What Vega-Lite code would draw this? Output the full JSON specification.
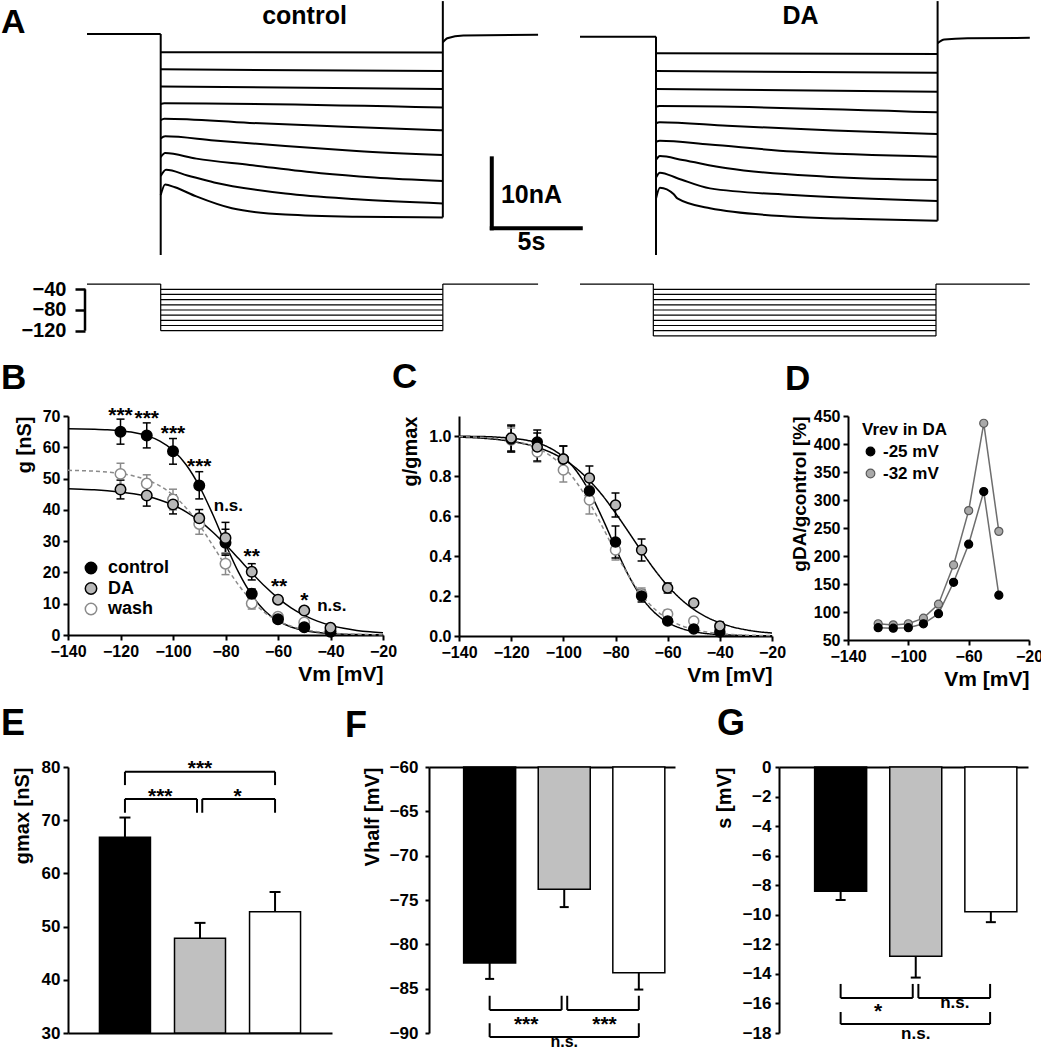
{
"$schema":"https://vega.github.io/schema/vega-lite/v6.json",
"background":"white",
"padding":{"left":1,"top":0,"right":0,"bottom":0},
"config":{
 "view":{"stroke":null},
 "font":"Liberation Sans",
 "axis":{"domainColor":"black","domainWidth":2,"tickColor":"black","tickWidth":2,"tickSize":5,"labelFont":"Liberation Sans","labelFontSize":16,"labelFontWeight":"bold","labelColor":"black","labelPadding":3,"titleFont":"Liberation Sans","titleFontSize":20,"titleFontWeight":"bold","titleColor":"black","grid":false,"labelOverlap":false,"labelFlush":false,"labelBound":false,"titlePadding":6},
 "title":{"font":"Liberation Sans","fontSize":36,"fontWeight":"bold","color":"black","anchor":"start","frame":"group","baseline":"alphabetic","offset":0},
 "legend":{"labelFont":"Liberation Sans","labelFontWeight":"bold","labelColor":"black","titleFont":"Liberation Sans","titleFontWeight":"bold","titleColor":"black","padding":0},
 "text":{"font":"Liberation Sans","fontWeight":"bold","color":"black"}
},
"datasets":{
 "pts":[
  {"V":-120,"s":"wash","g":51.5,"lo":48.1,"hi":54.9,"gn":0.98,"nlo":0.92,"nhi":1.04},
  {"V":-110,"s":"wash","g":48.4,"lo":45.6,"hi":51.2,"gn":0.92,"nlo":0.87,"nhi":0.97},
  {"V":-100,"s":"wash","g":43.3,"lo":40.0,"hi":46.6,"gn":0.83,"nlo":0.77,"nhi":0.89},
  {"V":-90,"s":"wash","g":35.5,"lo":32.2,"hi":38.8,"gn":0.68,"nlo":0.61,"nhi":0.75},
  {"V":-80,"s":"wash","g":22.8,"lo":19.3,"hi":26.3,"gn":0.43,"nlo":0.38,"nhi":0.48},
  {"V":-70,"s":"wash","g":10.1,"lo":8.3,"hi":11.9,"gn":0.21,"nlo":0.18,"nhi":0.24},
  {"V":-60,"s":"wash","g":5.8,"lo":5.0,"hi":6.6,"gn":0.11,"nlo":0.09,"nhi":0.13},
  {"V":-50,"s":"wash","g":4.0,"lo":3.3,"hi":4.7,"gn":0.075,"nlo":0.06,"nhi":0.09},
  {"V":-40,"s":"wash","g":1.5,"lo":1.0,"hi":2.0,"gn":0.04,"nlo":0.02,"nhi":0.06},
  {"V":-120,"s":"control","g":65.0,"lo":61.0,"hi":69.0,"gn":0.985,"nlo":0.92,"nhi":1.05},
  {"V":-110,"s":"control","g":63.8,"lo":59.8,"hi":67.8,"gn":0.97,"nlo":0.91,"nhi":1.03},
  {"V":-100,"s":"control","g":58.7,"lo":54.6,"hi":62.8,"gn":0.885,"nlo":0.82,"nhi":0.95},
  {"V":-90,"s":"control","g":47.8,"lo":43.5,"hi":52.2,"gn":0.725,"nlo":0.665,"nhi":0.785},
  {"V":-80,"s":"control","g":29.5,"lo":25.5,"hi":33.8,"gn":0.47,"nlo":0.39,"nhi":0.55},
  {"V":-70,"s":"control","g":13.2,"lo":11.7,"hi":14.7,"gn":0.2,"nlo":0.17,"nhi":0.23},
  {"V":-60,"s":"control","g":5.0,"lo":4.2,"hi":5.8,"gn":0.075,"nlo":0.065,"nhi":0.085},
  {"V":-50,"s":"control","g":2.5,"lo":1.8,"hi":3.2,"gn":0.035,"nlo":0.025,"nhi":0.045},
  {"V":-40,"s":"control","g":1.0,"lo":0.5,"hi":1.5,"gn":0.02,"nlo":0.01,"nhi":0.03},
  {"V":-120,"s":"DA","g":46.5,"lo":43.5,"hi":49.5,"gn":0.99,"nlo":0.925,"nhi":1.055},
  {"V":-110,"s":"DA","g":44.6,"lo":41.2,"hi":48.0,"gn":0.945,"nlo":0.875,"nhi":1.015},
  {"V":-100,"s":"DA","g":41.7,"lo":38.7,"hi":44.7,"gn":0.885,"nlo":0.82,"nhi":0.95},
  {"V":-90,"s":"DA","g":37.3,"lo":34.5,"hi":40.1,"gn":0.79,"nlo":0.73,"nhi":0.85},
  {"V":-80,"s":"DA","g":31.0,"lo":26.0,"hi":36.0,"gn":0.655,"nlo":0.595,"nhi":0.715},
  {"V":-70,"s":"DA","g":20.2,"lo":17.6,"hi":22.8,"gn":0.43,"nlo":0.375,"nhi":0.485},
  {"V":-60,"s":"DA","g":11.3,"lo":10.2,"hi":12.4,"gn":0.24,"nlo":0.215,"nhi":0.265},
  {"V":-50,"s":"DA","g":7.8,"lo":7.0,"hi":8.6,"gn":0.165,"nlo":0.15,"nhi":0.18},
  {"V":-40,"s":"DA","g":2.3,"lo":1.3,"hi":3.3,"gn":0.05,"nlo":0.03,"nhi":0.07}
 ],
 "fits":[
  {"V":-140,"s":"control","g":65.93,"gn":0.999},{"V":-135,"s":"control","g":65.88,"gn":0.998},{"V":-130,"s":"control","g":65.78,"gn":0.997},{"V":-125,"s":"control","g":65.61,"gn":0.994},{"V":-120,"s":"control","g":65.29,"gn":0.989},{"V":-115,"s":"control","g":64.73,"gn":0.981},{"V":-110,"s":"control","g":63.73,"gn":0.966},{"V":-105,"s":"control","g":61.99,"gn":0.939},{"V":-100,"s":"control","g":59.07,"gn":0.895},{"V":-95,"s":"control","g":54.42,"gn":0.825},{"V":-90,"s":"control","g":47.62,"gn":0.722},{"V":-85,"s":"control","g":38.83,"gn":0.588},{"V":-80,"s":"control","g":29.09,"gn":0.441},{"V":-75,"s":"control","g":19.99,"gn":0.303},{"V":-70,"s":"control","g":12.76,"gn":0.193},{"V":-65,"s":"control","g":7.70,"gn":0.117},{"V":-60,"s":"control","g":4.48,"gn":0.068},{"V":-55,"s":"control","g":2.55,"gn":0.039},{"V":-50,"s":"control","g":1.43,"gn":0.022},{"V":-45,"s":"control","g":0.80,"gn":0.012},{"V":-40,"s":"control","g":0.44,"gn":0.007},{"V":-35,"s":"control","g":0.24,"gn":0.004},{"V":-30,"s":"control","g":0.135,"gn":0.002},{"V":-25,"s":"control","g":0.075,"gn":0.001},{"V":-20,"s":"control","g":0.041,"gn":0.001},
  {"V":-140,"s":"DA","g":46.73,"gn":0.994},{"V":-135,"s":"DA","g":46.60,"gn":0.992},{"V":-130,"s":"DA","g":46.42,"gn":0.988},{"V":-125,"s":"DA","g":46.14,"gn":0.982},{"V":-120,"s":"DA","g":45.74,"gn":0.973},{"V":-115,"s":"DA","g":45.16,"gn":0.961},{"V":-110,"s":"DA","g":44.34,"gn":0.943},{"V":-105,"s":"DA","g":43.17,"gn":0.919},{"V":-100,"s":"DA","g":41.55,"gn":0.884},{"V":-95,"s":"DA","g":39.37,"gn":0.838},{"V":-90,"s":"DA","g":36.53,"gn":0.777},{"V":-85,"s":"DA","g":33.02,"gn":0.703},{"V":-80,"s":"DA","g":28.91,"gn":0.615},{"V":-75,"s":"DA","g":24.42,"gn":0.52},{"V":-70,"s":"DA","g":19.86,"gn":0.423},{"V":-65,"s":"DA","g":15.56,"gn":0.331},{"V":-60,"s":"DA","g":11.79,"gn":0.251},{"V":-55,"s":"DA","g":8.68,"gn":0.185},{"V":-50,"s":"DA","g":6.25,"gn":0.133},{"V":-45,"s":"DA","g":4.42,"gn":0.094},{"V":-40,"s":"DA","g":3.08,"gn":0.066},{"V":-35,"s":"DA","g":2.13,"gn":0.045},{"V":-30,"s":"DA","g":1.46,"gn":0.031},{"V":-25,"s":"DA","g":1.0,"gn":0.021},{"V":-20,"s":"DA","g":0.68,"gn":0.015},
  {"V":-140,"s":"wash","g":52.64,"gn":0.997},{"V":-135,"s":"wash","g":52.53,"gn":0.995},{"V":-130,"s":"wash","g":52.36,"gn":0.992},{"V":-125,"s":"wash","g":52.07,"gn":0.986},{"V":-120,"s":"wash","g":51.59,"gn":0.977},{"V":-115,"s":"wash","g":50.82,"gn":0.963},{"V":-110,"s":"wash","g":49.58,"gn":0.939},{"V":-105,"s":"wash","g":47.64,"gn":0.902},{"V":-100,"s":"wash","g":44.74,"gn":0.847},{"V":-95,"s":"wash","g":40.62,"gn":0.769},{"V":-90,"s":"wash","g":35.21,"gn":0.667},{"V":-85,"s":"wash","g":28.82,"gn":0.546},{"V":-80,"s":"wash","g":22.13,"gn":0.419},{"V":-75,"s":"wash","g":15.96,"gn":0.302},{"V":-70,"s":"wash","g":10.9,"gn":0.206},{"V":-65,"s":"wash","g":7.13,"gn":0.135},{"V":-60,"s":"wash","g":4.52,"gn":0.086},{"V":-55,"s":"wash","g":2.81,"gn":0.053},{"V":-50,"s":"wash","g":1.73,"gn":0.033},{"V":-45,"s":"wash","g":1.05,"gn":0.02},{"V":-40,"s":"wash","g":0.64,"gn":0.012},{"V":-35,"s":"wash","g":0.38,"gn":0.007},{"V":-30,"s":"wash","g":0.23,"gn":0.004},{"V":-25,"s":"wash","g":0.14,"gn":0.003},{"V":-20,"s":"wash","g":0.08,"gn":0.002}
 ]
},
"spacing":19,
"resolve":{"scale":{"fill":"independent","stroke":"independent","color":"independent","strokeDash":"independent"}},
"vconcat":[
 {"hconcat":[
  {"width":512,"height":340,
   "title":{"text":"A","dx":-67,"dy":44,"fontSize":34},
   "encoding":{"x":{"field":"t","type":"quantitative","scale":{"domain":[-5.208,23.556],"nice":false,"zero":false},"axis":null}},
   "layer":[
    {"layer":[
     {"data":{"values":[
      {"tr":"p","t":-4.14,"I":0},{"tr":"p","t":0,"I":0},
      {"tr":"q","t":15.85,"I":-1.2},{"tr":"q","t":16.1,"I":-0.6},{"tr":"q","t":17,"I":-0.2},{"tr":"q","t":21.2,"I":-0.1},
      {"tr":"1","t":0,"I":-2.6},{"tr":"1","t":15.85,"I":-2.66},
      {"tr":"2","t":0,"I":-5.05},{"tr":"2","t":15.85,"I":-5.3},
      {"tr":"3","t":0,"I":-7.5},{"tr":"3","t":15.85,"I":-7.85},
      {"tr":"4","t":0,"I":-10.0},{"tr":"4","t":0.2,"I":-9.9},{"tr":"4","t":15.85,"I":-10.5},
      {"tr":"5","t":0,"I":-12.3},{"tr":"5","t":0.2,"I":-12.1},{"tr":"5","t":5,"I":-12.7},{"tr":"5","t":10,"I":-13.2},{"tr":"5","t":15.85,"I":-13.75},
      {"tr":"6","t":0,"I":-14.9},{"tr":"6","t":0.25,"I":-14.6},{"tr":"6","t":3,"I":-15.2},{"tr":"6","t":7,"I":-16.0},{"tr":"6","t":11,"I":-16.7},{"tr":"6","t":15.85,"I":-17.3},
      {"tr":"7","t":0,"I":-17.6},{"tr":"7","t":0.25,"I":-17.0},{"tr":"7","t":2,"I":-17.8},{"tr":"7","t":5,"I":-18.7},{"tr":"7","t":9,"I":-19.9},{"tr":"7","t":12,"I":-20.5},{"tr":"7","t":15.85,"I":-21.0},
      {"tr":"8","t":0,"I":-20.3},{"tr":"8","t":0.3,"I":-19.4},{"tr":"8","t":1.5,"I":-20.2},{"tr":"8","t":3,"I":-21.2},{"tr":"8","t":7,"I":-22.8},{"tr":"8","t":11,"I":-23.6},{"tr":"8","t":15.85,"I":-24.2},
      {"tr":"9","t":0,"I":-23.0},{"tr":"9","t":0.25,"I":-21.5},{"tr":"9","t":0.8,"I":-21.9},{"tr":"9","t":2,"I":-23.2},{"tr":"9","t":4,"I":-24.9},{"tr":"9","t":7,"I":-25.8},{"tr":"9","t":11,"I":-26.1},{"tr":"9","t":15.85,"I":-26.2}
     ]},
      "mark":{"type":"line","color":"black","strokeWidth":2,"strokeJoin":"round","interpolate":"monotone"},
      "encoding":{"y":{"field":"I","type":"quantitative","scale":{"domain":[-43.71,4.857],"nice":false,"zero":false},"axis":null},"detail":{"field":"tr","type":"nominal"}}},
     {"data":{"values":[{"t":0,"t2":0,"I1":0,"I2":-31.57},{"t":15.85,"t2":15.85,"I1":4.7,"I2":-26.2}]},
      "mark":{"type":"rule","color":"black","strokeWidth":2},
      "encoding":{"x2":{"field":"t2"},"y":{"field":"I1","type":"quantitative","scale":{"domain":[-43.71,4.857],"nice":false,"zero":false},"axis":null},"y2":{"field":"I2"}}},
     {"data":{"values":[{"t":18.6,"t2":18.6,"I1":-17.76,"I2":-27.76},{"t":18.6,"t2":23.6,"I1":-27.76,"I2":-27.76}]},
      "mark":{"type":"rule","color":"black","strokeWidth":4,"strokeCap":"square"},
      "encoding":{"x2":{"field":"t2"},"y":{"field":"I1","type":"quantitative","scale":{"domain":[-43.71,4.857],"nice":false,"zero":false},"axis":null},"y2":{"field":"I2"}}},
     {"data":{"values":[{"t":8.08,"I":1.43,"s":"control"},{"t":20.83,"I":-24.19,"s":"10nA"},{"t":20.83,"I":-30.86,"s":"5s"}]},
      "mark":{"type":"text","fontSize":25,"fontWeight":"bold","baseline":"alphabetic","align":"center"},
      "encoding":{"y":{"field":"I","type":"quantitative","scale":{"domain":[-43.71,4.857],"nice":false,"zero":false},"axis":null},"text":{"field":"s"}}}
    ]},
    {"layer":[
     {"data":{"values":[
      {"t":-4.14,"t2":0,"v1":-30,"v2":-30},{"t":0,"t2":0,"v1":-30,"v2":-120},{"t":15.85,"t2":15.85,"v1":-30,"v2":-120},{"t":15.85,"t2":21.2,"v1":-30,"v2":-30},
      {"t":0,"t2":15.85,"v1":-40,"v2":-40},{"t":0,"t2":15.85,"v1":-50,"v2":-50},{"t":0,"t2":15.85,"v1":-60,"v2":-60},{"t":0,"t2":15.85,"v1":-70,"v2":-70},{"t":0,"t2":15.85,"v1":-80,"v2":-80},{"t":0,"t2":15.85,"v1":-90,"v2":-90},{"t":0,"t2":15.85,"v1":-100,"v2":-100},{"t":0,"t2":15.85,"v1":-110,"v2":-110},{"t":0,"t2":15.85,"v1":-120,"v2":-120}
     ]},
      "mark":{"type":"rule","color":"black","strokeWidth":1.2},
      "encoding":{"x2":{"field":"t2"},"y":{"field":"v1","type":"quantitative","scale":{"domain":[-137.97,519.0],"nice":false,"zero":false},"axis":{"orient":"left","offset":-17,"domain":false,"values":[-40,-80,-120],"tickSize":10,"tickWidth":2.5,"labelPadding":9,"labelFontSize":20,"title":null}},"y2":{"field":"v2"}}},
     {"data":{"values":[{"t":-4.253,"v1":-40,"v2":-120}]},
      "mark":{"type":"rule","color":"black","strokeWidth":2.5},
      "encoding":{"y":{"field":"v1","type":"quantitative","scale":{"domain":[-137.97,519.0],"nice":false,"zero":false},"axis":{"orient":"left","offset":-17,"domain":false,"values":[-40,-80,-120],"tickSize":10,"tickWidth":2.5,"labelPadding":9,"labelFontSize":20,"title":null}},"y2":{"field":"v2"}}}
    ]}
   ],
   "resolve":{"scale":{"y":"independent"},"axis":{"y":"independent"}}
  },
  {"width":455,"height":340,
   "encoding":{"x":{"field":"t","type":"quantitative","scale":{"domain":[-4.27,21.292],"nice":false,"zero":false},"axis":null}},
   "layer":[
    {"layer":[
     {"data":{"values":[
      {"tr":"p","t":-4.27,"I":-0.38},{"tr":"p","t":0,"I":-0.38},
      {"tr":"q","t":15.82,"I":-1.3},{"tr":"q","t":16.2,"I":-0.8},{"tr":"q","t":17.5,"I":-0.6},{"tr":"q","t":21.0,"I":-0.55},
      {"tr":"1","t":0,"I":-2.76},{"tr":"1","t":15.82,"I":-2.86},
      {"tr":"2","t":0,"I":-5.29},{"tr":"2","t":15.82,"I":-5.52},
      {"tr":"3","t":0,"I":-7.86},{"tr":"3","t":15.82,"I":-8.24},
      {"tr":"4","t":0,"I":-10.38},{"tr":"4","t":0.2,"I":-10.3},{"tr":"4","t":15.82,"I":-11.19},
      {"tr":"5","t":0,"I":-12.76},{"tr":"5","t":0.2,"I":-12.6},{"tr":"5","t":4,"I":-13.1},{"tr":"5","t":10,"I":-13.8},{"tr":"5","t":15.82,"I":-14.29},
      {"tr":"6","t":0,"I":-15.4},{"tr":"6","t":0.22,"I":-15.24},{"tr":"6","t":3,"I":-15.8},{"tr":"6","t":7.7,"I":-16.8},{"tr":"6","t":15.82,"I":-17.52},
      {"tr":"7","t":0,"I":-18.0},{"tr":"7","t":0.22,"I":-17.43},{"tr":"7","t":1.5,"I":-18.0},{"tr":"7","t":4,"I":-19.19},{"tr":"7","t":9.6,"I":-20.38},{"tr":"7","t":15.82,"I":-20.86},
      {"tr":"8","t":0,"I":-20.5},{"tr":"8","t":0.22,"I":-19.81},{"tr":"8","t":1.2,"I":-20.6},{"tr":"8","t":3.03,"I":-22.05},{"tr":"8","t":7.7,"I":-23.0},{"tr":"8","t":15.82,"I":-23.86},
      {"tr":"9","t":0,"I":-23.5},{"tr":"9","t":0.22,"I":-21.95},{"tr":"9","t":1.0,"I":-22.9},{"tr":"9","t":1.2,"I":-23.48},{"tr":"9","t":3.03,"I":-24.9},{"tr":"9","t":7.7,"I":-26.1},{"tr":"9","t":11.46,"I":-26.43},{"tr":"9","t":15.82,"I":-26.67}
     ]},
      "mark":{"type":"line","color":"black","strokeWidth":2,"strokeJoin":"round","interpolate":"monotone"},
      "encoding":{"y":{"field":"I","type":"quantitative","scale":{"domain":[-43.71,4.857],"nice":false,"zero":false},"axis":null},"detail":{"field":"tr","type":"nominal"}}},
     {"data":{"values":[{"t":0,"t2":0,"I1":-0.38,"I2":-31.57},{"t":15.82,"t2":15.82,"I1":4.7,"I2":-26.67}]},
      "mark":{"type":"rule","color":"black","strokeWidth":2},
      "encoding":{"x2":{"field":"t2"},"y":{"field":"I1","type":"quantitative","scale":{"domain":[-43.71,4.857],"nice":false,"zero":false},"axis":null},"y2":{"field":"I2"}}},
     {"data":{"values":[{"t":8.12,"I":1.43,"s":"DA"}]},
      "mark":{"type":"text","fontSize":25,"fontWeight":"bold","baseline":"alphabetic","align":"center"},
      "encoding":{"y":{"field":"I","type":"quantitative","scale":{"domain":[-43.71,4.857],"nice":false,"zero":false},"axis":null},"text":{"field":"s"}}}
    ]},
    {"layer":[
     {"data":{"values":[
      {"t":-4.27,"t2":-0.15,"v1":-30,"v2":-30},{"t":-0.15,"t2":-0.15,"v1":-30,"v2":-130},{"t":15.73,"t2":15.73,"v1":-30,"v2":-130},{"t":15.73,"t2":21.0,"v1":-30,"v2":-30},
      {"t":-0.15,"t2":15.73,"v1":-40,"v2":-40},{"t":-0.15,"t2":15.73,"v1":-50,"v2":-50},{"t":-0.15,"t2":15.73,"v1":-60,"v2":-60},{"t":-0.15,"t2":15.73,"v1":-70,"v2":-70},{"t":-0.15,"t2":15.73,"v1":-80,"v2":-80},{"t":-0.15,"t2":15.73,"v1":-90,"v2":-90},{"t":-0.15,"t2":15.73,"v1":-100,"v2":-100},{"t":-0.15,"t2":15.73,"v1":-110,"v2":-110},{"t":-0.15,"t2":15.73,"v1":-120,"v2":-120},{"t":-0.15,"t2":15.73,"v1":-130,"v2":-130}
     ]},
      "mark":{"type":"rule","color":"black","strokeWidth":1.2},
      "encoding":{"x2":{"field":"t2"},"y":{"field":"v1","type":"quantitative","scale":{"domain":[-137.97,519.0],"nice":false,"zero":false},"axis":null},"y2":{"field":"v2"}}}
    ]}
   ],
   "resolve":{"scale":{"y":"independent"},"axis":{"y":"independent"}}
  }
 ],"spacing":0,"bounds":"flush"},
 {"vconcat":[
  {"hconcat":[
   {"width":315,"height":219,
    "title":{"text":"B","dx":-67,"dy":-5,"fontSize":35},
    "encoding":{"x":{"field":"V","type":"quantitative","scale":{"domain":[-140,-20],"nice":false,"zero":false},"axis":{"values":[-140,-120,-100,-80,-60,-40,-20],"title":"Vm [mV]","titleAnchor":"end","titleFontSize":21,"titlePadding":4}}},
    "layer":[
     {"data":{"values":[{}]},"mark":{"type":"rect","color":"#c8c8c8"},
      "encoding":{"x":{"datum":-72.5},"x2":{"datum":-46.5},"y":{"datum":0,"type":"quantitative","scale":{"domain":[0,70],"nice":false,"zero":false},"axis":{"values":[0,10,20,30,40,50,60,70],"title":"g [nS]","titleAnchor":"end","titlePadding":8}},"y2":{"datum":70}}},
     {"data":{"name":"fits"},"transform":[{"filter":"datum.s !== 'wash'"}],"mark":{"type":"line","strokeWidth":1.5,"interpolate":"monotone","color":"black"},
      "encoding":{"y":{"field":"g","type":"quantitative","scale":{"domain":[0,70],"nice":false,"zero":false},"axis":{"values":[0,10,20,30,40,50,60,70],"title":"g [nS]","titleAnchor":"end","titlePadding":8}},"detail":{"field":"s","type":"nominal"}}},
     {"data":{"name":"fits"},"transform":[{"filter":"datum.s === 'wash'"}],"mark":{"type":"line","strokeWidth":1.5,"interpolate":"monotone","color":"#8a8a8a","strokeDash":[4,3]},
      "encoding":{"y":{"field":"g","type":"quantitative","scale":{"domain":[0,70],"nice":false,"zero":false},"axis":{"values":[0,10,20,30,40,50,60,70],"title":"g [nS]","titleAnchor":"end","titlePadding":8}}}},
     {"data":{"name":"pts"},"transform":[{"filter":"datum.s !== 'wash'"}],"mark":{"type":"rule","strokeWidth":1.5,"color":"black"},
      "encoding":{"y":{"field":"lo","type":"quantitative","scale":{"domain":[0,70],"nice":false,"zero":false},"axis":{"values":[0,10,20,30,40,50,60,70],"title":"g [nS]","titleAnchor":"end","titlePadding":8}},"y2":{"field":"hi"}}},
     {"data":{"name":"pts"},"transform":[{"filter":"datum.s === 'wash'"}],"mark":{"type":"rule","strokeWidth":1.5,"color":"#8a8a8a"},
      "encoding":{"y":{"field":"lo","type":"quantitative","scale":{"domain":[0,70],"nice":false,"zero":false},"axis":{"values":[0,10,20,30,40,50,60,70],"title":"g [nS]","titleAnchor":"end","titlePadding":8}},"y2":{"field":"hi"}}},
     {"data":{"name":"pts"},"transform":[{"filter":"datum.s !== 'wash'"}],"mark":{"type":"tick","orient":"horizontal","size":8,"thickness":1.5,"opacity":1,"color":"black"},
      "encoding":{"y":{"field":"lo","type":"quantitative","scale":{"domain":[0,70],"nice":false,"zero":false},"axis":{"values":[0,10,20,30,40,50,60,70],"title":"g [nS]","titleAnchor":"end","titlePadding":8}}}},
     {"data":{"name":"pts"},"transform":[{"filter":"datum.s !== 'wash'"}],"mark":{"type":"tick","orient":"horizontal","size":8,"thickness":1.5,"opacity":1,"color":"black"},
      "encoding":{"y":{"field":"hi","type":"quantitative","scale":{"domain":[0,70],"nice":false,"zero":false},"axis":{"values":[0,10,20,30,40,50,60,70],"title":"g [nS]","titleAnchor":"end","titlePadding":8}}}},
     {"data":{"name":"pts"},"transform":[{"filter":"datum.s === 'wash'"}],"mark":{"type":"tick","orient":"horizontal","size":8,"thickness":1.5,"opacity":1,"color":"#8a8a8a"},
      "encoding":{"y":{"field":"lo","type":"quantitative","scale":{"domain":[0,70],"nice":false,"zero":false},"axis":{"values":[0,10,20,30,40,50,60,70],"title":"g [nS]","titleAnchor":"end","titlePadding":8}}}},
     {"data":{"name":"pts"},"transform":[{"filter":"datum.s === 'wash'"}],"mark":{"type":"tick","orient":"horizontal","size":8,"thickness":1.5,"opacity":1,"color":"#8a8a8a"},
      "encoding":{"y":{"field":"hi","type":"quantitative","scale":{"domain":[0,70],"nice":false,"zero":false},"axis":{"values":[0,10,20,30,40,50,60,70],"title":"g [nS]","titleAnchor":"end","titlePadding":8}}}},
     {"data":{"name":"pts"},"mark":{"type":"circle","size":110,"strokeWidth":1.5,"opacity":1},
      "encoding":{"y":{"field":"g","type":"quantitative","scale":{"domain":[0,70],"nice":false,"zero":false},"axis":{"values":[0,10,20,30,40,50,60,70],"title":"g [nS]","titleAnchor":"end","titlePadding":8}},
       "fill":{"field":"s","type":"nominal","scale":{"domain":["control","DA","wash"],"range":["black","#b8b8b8","white"]},"legend":{"orient":"none","legendX":14,"legendY":143,"title":null,"symbolType":"circle","symbolSize":130,"symbolStrokeWidth":1.5,"labelFontSize":18,"labelOffset":8,"rowPadding":2.5,"encode":{"symbols":{"update":{"stroke":{"signal":"datum.value === 'wash' ? '#8a8a8a' : 'black'"},"strokeWidth":{"value":1.5}}}}}},
       "stroke":{"field":"s","type":"nominal","scale":{"domain":["control","DA","wash"],"range":["black","black","#8a8a8a"]},"legend":null}}},
     {"data":{"values":[{"V":-120,"y":72.0,"t":"***"},{"V":-110,"y":70.9,"t":"***"},{"V":-100,"y":66.1,"t":"***"},{"V":-90,"y":55.5,"t":"***"},{"V":-70,"y":26.7,"t":"**"},{"V":-59.6,"y":17.2,"t":"**"},{"V":-50,"y":12.7,"t":"*"}]},
      "mark":{"type":"text","fontSize":21,"fontWeight":"bold","dy":6},
      "encoding":{"y":{"field":"y","type":"quantitative","scale":{"domain":[0,70],"nice":false,"zero":false},"axis":{"values":[0,10,20,30,40,50,60,70],"title":"g [nS]","titleAnchor":"end","titlePadding":8}},"text":{"field":"t"}}},
     {"data":{"values":[{"V":-78.9,"y":41.1,"t":"n.s."},{"V":-39.5,"y":9.2,"t":"n.s."}]},
      "mark":{"type":"text","fontSize":17,"fontWeight":"bold"},
      "encoding":{"y":{"field":"y","type":"quantitative","scale":{"domain":[0,70],"nice":false,"zero":false},"axis":{"values":[0,10,20,30,40,50,60,70],"title":"g [nS]","titleAnchor":"end","titlePadding":8}},"text":{"field":"t"}}}
    ]},
   {"width":313,"height":220,
    "title":{"text":"C","dx":-67,"dy":-17,"fontSize":35},
    "encoding":{"x":{"field":"V","type":"quantitative","scale":{"domain":[-140,-20],"nice":false,"zero":false},"axis":{"values":[-140,-120,-100,-80,-60,-40,-20],"title":"Vm [mV]","titleAnchor":"end","titleFontSize":21,"titlePadding":4}}},
    "layer":[
     {"data":{"name":"fits"},"mark":{"type":"line","strokeWidth":1.5,"interpolate":"monotone"},
      "encoding":{"y":{"field":"gn","type":"quantitative","scale":{"domain":[0,1.1],"nice":false,"zero":false},"axis":{"values":[0,0.2,0.4,0.6,0.8,1.0],"format":".1f","title":"g/gmax","titleAnchor":"end","titlePadding":8}},
       "detail":{"field":"s"},
       "stroke":{"field":"s","type":"nominal","scale":{"domain":["control","DA","wash"],"range":["black","black","#8a8a8a"]},"legend":null},
       "strokeDash":{"field":"s","type":"nominal","scale":{"domain":["control","DA","wash"],"range":[[1,0],[1,0],[4,3]]},"legend":null}}},
     {"data":{"name":"pts"},"mark":{"type":"rule","strokeWidth":1.5},
      "encoding":{"y":{"field":"nlo","type":"quantitative","scale":{"domain":[0,1.1],"nice":false,"zero":false},"axis":{"values":[0,0.2,0.4,0.6,0.8,1.0],"format":".1f","title":"g/gmax","titleAnchor":"end","titlePadding":8}},"y2":{"field":"nhi"},
       "stroke":{"field":"s","type":"nominal","scale":{"domain":["control","DA","wash"],"range":["black","black","#8a8a8a"]},"legend":null}}},
     {"data":{"name":"pts"},"mark":{"type":"tick","orient":"horizontal","size":8,"thickness":1.5,"opacity":1},
      "encoding":{"y":{"field":"nlo","type":"quantitative","scale":{"domain":[0,1.1],"nice":false,"zero":false},"axis":{"values":[0,0.2,0.4,0.6,0.8,1.0],"format":".1f","title":"g/gmax","titleAnchor":"end","titlePadding":8}},
       "color":{"field":"s","type":"nominal","scale":{"domain":["control","DA","wash"],"range":["black","black","#8a8a8a"]},"legend":null}}},
     {"data":{"name":"pts"},"mark":{"type":"tick","orient":"horizontal","size":8,"thickness":1.5,"opacity":1},
      "encoding":{"y":{"field":"nhi","type":"quantitative","scale":{"domain":[0,1.1],"nice":false,"zero":false},"axis":{"values":[0,0.2,0.4,0.6,0.8,1.0],"format":".1f","title":"g/gmax","titleAnchor":"end","titlePadding":8}},
       "color":{"field":"s","type":"nominal","scale":{"domain":["control","DA","wash"],"range":["black","black","#8a8a8a"]},"legend":null}}},
     {"data":{"name":"pts"},"mark":{"type":"circle","size":100,"strokeWidth":1.5,"opacity":1},
      "encoding":{"y":{"field":"gn","type":"quantitative","scale":{"domain":[0,1.1],"nice":false,"zero":false},"axis":{"values":[0,0.2,0.4,0.6,0.8,1.0],"format":".1f","title":"g/gmax","titleAnchor":"end","titlePadding":8}},
       "fill":{"field":"s","type":"nominal","scale":{"domain":["control","DA","wash"],"range":["black","#b8b8b8","white"]},"legend":null},
       "stroke":{"field":"s","type":"nominal","scale":{"domain":["control","DA","wash"],"range":["black","black","#8a8a8a"]},"legend":null}}}
    ]},
   {"width":181,"height":224,
    "title":{"text":"D","dx":-63,"dy":-7,"fontSize":35},
    "encoding":{"x":{"field":"V","type":"quantitative","scale":{"domain":[-140,-20],"nice":false,"zero":false},"axis":{"values":[-140,-100,-60,-20],"title":"Vm [mV]","titleAnchor":"end","titleFontSize":21,"titlePadding":4}}},
    "layer":[
     {"data":{"values":[{}]},"mark":{"type":"rect","color":"#c8c8c8"},
      "encoding":{"x":{"datum":-72},"x2":{"datum":-48},"y":{"datum":50,"type":"quantitative","scale":{"domain":[50,450],"nice":false,"zero":false},"axis":{"values":[50,100,150,200,250,300,350,400,450],"title":"gDA/gcontrol [%]","titleAnchor":"end","titleFontSize":19,"titlePadding":4}},"y2":{"datum":450}}},
     {"data":{"values":[{}]},"mark":{"type":"rule","color":"black","strokeWidth":2,"strokeDash":[8,5]},
      "encoding":{"x":{"datum":-140},"x2":{"datum":-20},"y":{"datum":100,"type":"quantitative","scale":{"domain":[50,450],"nice":false,"zero":false},"axis":{"values":[50,100,150,200,250,300,350,400,450],"title":"gDA/gcontrol [%]","titleAnchor":"end","titleFontSize":19,"titlePadding":4}}}},
     {"data":{"values":[
       {"V":-120,"s":"-32 mV","r":79},{"V":-110,"s":"-32 mV","r":77},{"V":-100,"s":"-32 mV","r":79},{"V":-90,"s":"-32 mV","r":89},{"V":-80,"s":"-32 mV","r":114},{"V":-70,"s":"-32 mV","r":184},{"V":-60,"s":"-32 mV","r":281},{"V":-50,"s":"-32 mV","r":437},{"V":-40,"s":"-32 mV","r":244},
       {"V":-120,"s":"-25 mV","r":72},{"V":-110,"s":"-25 mV","r":71},{"V":-100,"s":"-25 mV","r":72},{"V":-90,"s":"-25 mV","r":79},{"V":-80,"s":"-25 mV","r":97},{"V":-70,"s":"-25 mV","r":153},{"V":-60,"s":"-25 mV","r":221},{"V":-50,"s":"-25 mV","r":315},{"V":-40,"s":"-25 mV","r":130}
      ]},
      "layer":[
       {"mark":{"type":"line","color":"#6e6e6e","strokeWidth":1.5},
        "encoding":{"y":{"field":"r","type":"quantitative","scale":{"domain":[50,450],"nice":false,"zero":false},"axis":{"values":[50,100,150,200,250,300,350,400,450],"title":"gDA/gcontrol [%]","titleAnchor":"end","titleFontSize":19,"titlePadding":4}},"detail":{"field":"s"}}},
       {"mark":{"type":"circle","size":65,"strokeWidth":1.2,"opacity":1},
        "encoding":{"y":{"field":"r","type":"quantitative","scale":{"domain":[50,450],"nice":false,"zero":false},"axis":{"values":[50,100,150,200,250,300,350,400,450],"title":"gDA/gcontrol [%]","titleAnchor":"end","titleFontSize":19,"titlePadding":4}},
         "fill":{"field":"s","type":"nominal","scale":{"domain":["-25 mV","-32 mV"],"range":["black","#a9a9a9"]},"legend":{"orient":"none","legendX":14,"legendY":6,"title":"Vrev in DA","titleFontSize":17,"titlePadding":4,"labelFontSize":17,"symbolType":"circle","symbolSize":75,"symbolStrokeWidth":1.2,"labelOffset":4,"rowPadding":4,"encode":{"symbols":{"update":{"stroke":{"signal":"datum.value === '-32 mV' ? '#5a5a5a' : 'black'"},"strokeWidth":{"value":1.2}}}}}},
         "stroke":{"field":"s","type":"nominal","scale":{"domain":["-25 mV","-32 mV"],"range":["black","#5a5a5a"]},"legend":null}}}
      ]}
    ]}
  ],"spacing":76,"bounds":"flush","resolve":{"scale":{"fill":"independent","stroke":"independent","color":"independent","strokeDash":"independent"}}},
  {"hconcat":[
   {"width":264,"height":266,
    "title":{"text":"E","dx":-67,"dy":-11,"fontSize":36},
    "encoding":{"x":{"field":"x","type":"quantitative","scale":{"domain":[0.3077,3.6923],"nice":false,"zero":false},"axis":{"orient":"bottom","ticks":false,"labels":false,"title":null}}},
    "layer":[
     {"data":{"values":[{"x":1,"g":"control","v":66.8,"e":70.5},{"x":2,"g":"DA","v":47.8,"e":50.7},{"x":3,"g":"wash","v":52.8,"e":56.5}]},
      "layer":[
       {"mark":{"type":"bar","width":51,"stroke":"black","strokeWidth":1.5},
        "encoding":{"y":{"field":"v","type":"quantitative","scale":{"domain":[30,80],"nice":false,"zero":false},"axis":{"values":[30,40,50,60,70,80],"title":"gmax [nS]","titleAnchor":"end","titlePadding":9,"labelFontSize":17,"labelOverlap":false}},"y2":{"datum":30},
         "fill":{"field":"g","type":"nominal","scale":{"domain":["control","DA","wash"],"range":["black","#c0c0c0","white"]},"legend":null}}},
       {"mark":{"type":"rule","color":"black","strokeWidth":2},
        "encoding":{"y":{"field":"v","type":"quantitative","scale":{"domain":[30,80],"nice":false,"zero":false}},"y2":{"field":"e"}}},
       {"mark":{"type":"tick","orient":"horizontal","size":11,"thickness":2,"color":"black","opacity":1},
        "encoding":{"y":{"field":"e","type":"quantitative","scale":{"domain":[30,80],"nice":false,"zero":false}}}}
      ]},
     {"data":{"values":[{"a":1,"b":3,"yb":79.1,"yl":76.6},{"a":1,"b":1.96,"yb":74.0,"yl":71.4},{"a":2.03,"b":3,"yb":74.0,"yl":71.4}]},
      "layer":[
       {"mark":{"type":"rule","color":"black","strokeWidth":2},"encoding":{"x":{"field":"a","type":"quantitative"},"x2":{"field":"b"},"y":{"field":"yb","type":"quantitative","scale":{"domain":[30,80],"nice":false,"zero":false}}}},
       {"mark":{"type":"rule","color":"black","strokeWidth":2},"encoding":{"x":{"field":"a","type":"quantitative"},"y":{"field":"yb","type":"quantitative","scale":{"domain":[30,80],"nice":false,"zero":false}},"y2":{"field":"yl"}}},
       {"mark":{"type":"rule","color":"black","strokeWidth":2},"encoding":{"x":{"field":"b","type":"quantitative"},"y":{"field":"yb","type":"quantitative","scale":{"domain":[30,80],"nice":false,"zero":false}},"y2":{"field":"yl"}}}
      ]},
     {"data":{"values":[{"x":2,"y":80.8,"t":"***"},{"x":1.47,"y":75.5,"t":"***"},{"x":2.5,"y":75.5,"t":"*"}]},
      "mark":{"type":"text","fontSize":21,"fontWeight":"bold","dy":6},
      "encoding":{"y":{"field":"y","type":"quantitative","scale":{"domain":[30,80],"nice":false,"zero":false}},"text":{"field":"t"}}}
    ]},
   {"hconcat":[
    {"width":246,"height":266,
     "title":{"text":"F","dx":-84,"dy":-9,"fontSize":36},
     "encoding":{"x":{"field":"x","type":"quantitative","scale":{"domain":[0.254,3.418],"nice":false,"zero":false},"axis":{"orient":"top","ticks":false,"labels":false,"title":null}}},
     "layer":[
      {"data":{"values":[{"x":1,"g":"control","v":-82.1,"e":-83.9},{"x":2,"g":"DA","v":-73.8,"e":-75.8},{"x":3,"g":"wash","v":-83.2,"e":-85.1}]},
       "layer":[
        {"mark":{"type":"bar","width":52,"stroke":"black","strokeWidth":1.5},
         "encoding":{"y":{"field":"v","type":"quantitative","scale":{"domain":[-90,-60],"nice":false,"zero":false},"axis":{"values":[-90,-85,-80,-75,-70,-65,-60],"title":"Vhalf [mV]","titleAnchor":"end","titlePadding":7,"labelFontSize":17,"labelPadding":7,"tickSize":4,"labelOverlap":false}},"y2":{"datum":-60},
          "fill":{"field":"g","type":"nominal","scale":{"domain":["control","DA","wash"],"range":["black","#c0c0c0","white"]},"legend":null}}},
        {"mark":{"type":"rule","color":"black","strokeWidth":2},
         "encoding":{"y":{"field":"v","type":"quantitative","scale":{"domain":[-90,-60],"nice":false,"zero":false}},"y2":{"field":"e"}}},
        {"mark":{"type":"tick","orient":"horizontal","size":9,"thickness":2,"color":"black","opacity":1},
         "encoding":{"y":{"field":"e","type":"quantitative","scale":{"domain":[-90,-60],"nice":false,"zero":false}}}}
       ]},
      {"data":{"values":[{"a":1,"b":1.965,"yb":-87.4,"yl":-85.8},{"a":2.04,"b":3,"yb":-87.4,"yl":-85.8},{"a":1,"b":3,"yb":-90.45,"yl":-88.9}]},
       "layer":[
        {"mark":{"type":"rule","color":"black","strokeWidth":2},"encoding":{"x":{"field":"a","type":"quantitative"},"x2":{"field":"b"},"y":{"field":"yb","type":"quantitative","scale":{"domain":[-90,-60],"nice":false,"zero":false}}}},
        {"mark":{"type":"rule","color":"black","strokeWidth":2},"encoding":{"x":{"field":"a","type":"quantitative"},"y":{"field":"yb","type":"quantitative","scale":{"domain":[-90,-60],"nice":false,"zero":false}},"y2":{"field":"yl"}}},
        {"mark":{"type":"rule","color":"black","strokeWidth":2},"encoding":{"x":{"field":"b","type":"quantitative"},"y":{"field":"yb","type":"quantitative","scale":{"domain":[-90,-60],"nice":false,"zero":false}},"y2":{"field":"yl"}}}
       ]},
      {"data":{"values":[{"x":1.49,"y":-88.4,"t":"***"},{"x":2.54,"y":-88.4,"t":"***"}]},
       "mark":{"type":"text","fontSize":21,"fontWeight":"bold","dy":6},
       "encoding":{"y":{"field":"y","type":"quantitative","scale":{"domain":[-90,-60],"nice":false,"zero":false}},"text":{"field":"t"}}},
      {"data":{"values":[{"x":2,"y":-91.05,"t":"n.s."}]},
       "mark":{"type":"text","fontSize":16,"fontWeight":"bold"},
       "encoding":{"y":{"field":"y","type":"quantitative","scale":{"domain":[-90,-60],"nice":false,"zero":false}},"text":{"field":"t"}}}
     ]},
    {"width":249,"height":266,
     "title":{"text":"G","dx":-62,"dy":-11,"fontSize":36},
     "encoding":{"x":{"field":"x","type":"quantitative","scale":{"domain":[0.246,3.428],"nice":false,"zero":false},"axis":{"orient":"top","ticks":false,"labels":false,"title":null}}},
     "layer":[
      {"data":{"values":[{"x":1,"g":"control","v":-8.4,"e":-9.0},{"x":2,"g":"DA","v":-12.8,"e":-14.25},{"x":3,"g":"wash","v":-9.8,"e":-10.5}]},
       "layer":[
        {"mark":{"type":"bar","width":52,"stroke":"black","strokeWidth":1.5},
         "encoding":{"y":{"field":"v","type":"quantitative","scale":{"domain":[-18,0],"nice":false,"zero":false},"axis":{"values":[-18,-16,-14,-12,-10,-8,-6,-4,-2,0],"title":"s [mV]","titleAnchor":"end","titlePadding":8,"labelFontSize":17,"labelPadding":4,"tickSize":4,"labelOverlap":false,"labelSeparation":-30,"labelBound":false,"labelFlush":false}},"y2":{"datum":0},
          "fill":{"field":"g","type":"nominal","scale":{"domain":["control","DA","wash"],"range":["black","#c0c0c0","white"]},"legend":null}}},
        {"mark":{"type":"rule","color":"black","strokeWidth":2},
         "encoding":{"y":{"field":"v","type":"quantitative","scale":{"domain":[-18,0],"nice":false,"zero":false},"axis":{"values":[-18,-16,-14,-12,-10,-8,-6,-4,-2,0],"title":"s [mV]","titleAnchor":"end","titlePadding":8,"labelFontSize":17,"labelPadding":4,"tickSize":4,"labelOverlap":false,"labelSeparation":-30,"labelBound":false,"labelFlush":false}},"y2":{"field":"e"}}},
        {"mark":{"type":"tick","orient":"horizontal","size":10,"thickness":2,"color":"black","opacity":1},
         "encoding":{"y":{"field":"e","type":"quantitative","scale":{"domain":[-18,0],"nice":false,"zero":false},"axis":{"values":[-18,-16,-14,-12,-10,-8,-6,-4,-2,0],"title":"s [mV]","titleAnchor":"end","titlePadding":8,"labelFontSize":17,"labelPadding":4,"tickSize":4,"labelOverlap":false,"labelSeparation":-30,"labelBound":false,"labelFlush":false}}}}
       ]},
      {"data":{"values":[{"a":1,"b":1.96,"yb":-15.63,"yl":-14.68},{"a":2.035,"b":2.99,"yb":-15.63,"yl":-14.68},{"a":1,"b":2.99,"yb":-17.39,"yl":-16.58}]},
       "layer":[
        {"mark":{"type":"rule","color":"black","strokeWidth":2},"encoding":{"x":{"field":"a","type":"quantitative"},"x2":{"field":"b"},"y":{"field":"yb","type":"quantitative","scale":{"domain":[-18,0],"nice":false,"zero":false},"axis":{"values":[-18,-16,-14,-12,-10,-8,-6,-4,-2,0],"title":"s [mV]","titleAnchor":"end","titlePadding":8,"labelFontSize":17,"labelPadding":4,"tickSize":4,"labelOverlap":false,"labelSeparation":-30,"labelBound":false,"labelFlush":false}}}},
        {"mark":{"type":"rule","color":"black","strokeWidth":2},"encoding":{"x":{"field":"a","type":"quantitative"},"y":{"field":"yb","type":"quantitative","scale":{"domain":[-18,0],"nice":false,"zero":false},"axis":{"values":[-18,-16,-14,-12,-10,-8,-6,-4,-2,0],"title":"s [mV]","titleAnchor":"end","titlePadding":8,"labelFontSize":17,"labelPadding":4,"tickSize":4,"labelOverlap":false,"labelSeparation":-30,"labelBound":false,"labelFlush":false}},"y2":{"field":"yl"}}},
        {"mark":{"type":"rule","color":"black","strokeWidth":2},"encoding":{"x":{"field":"b","type":"quantitative"},"y":{"field":"yb","type":"quantitative","scale":{"domain":[-18,0],"nice":false,"zero":false},"axis":{"values":[-18,-16,-14,-12,-10,-8,-6,-4,-2,0],"title":"s [mV]","titleAnchor":"end","titlePadding":8,"labelFontSize":17,"labelPadding":4,"tickSize":4,"labelOverlap":false,"labelSeparation":-30,"labelBound":false,"labelFlush":false}},"y2":{"field":"yl"}}}
       ]},
      {"data":{"values":[{"x":1.5,"y":-16.2,"t":"*"}]},
       "mark":{"type":"text","fontSize":21,"fontWeight":"bold","dy":6},
       "encoding":{"y":{"field":"y","type":"quantitative","scale":{"domain":[-18,0],"nice":false,"zero":false},"axis":{"values":[-18,-16,-14,-12,-10,-8,-6,-4,-2,0],"title":"s [mV]","titleAnchor":"end","titlePadding":8,"labelFontSize":17,"labelPadding":4,"tickSize":4,"labelOverlap":false,"labelSeparation":-30,"labelBound":false,"labelFlush":false}},"text":{"field":"t"}}},
      {"data":{"values":[{"x":2.52,"y":-16.0,"t":"n.s."},{"x":2,"y":-18.06,"t":"n.s."}]},
       "mark":{"type":"text","fontSize":17,"fontWeight":"bold"},
       "encoding":{"y":{"field":"y","type":"quantitative","scale":{"domain":[-18,0],"nice":false,"zero":false},"axis":{"values":[-18,-16,-14,-12,-10,-8,-6,-4,-2,0],"title":"s [mV]","titleAnchor":"end","titlePadding":8,"labelFontSize":17,"labelPadding":4,"tickSize":4,"labelOverlap":false,"labelSeparation":-30,"labelBound":false,"labelFlush":false}},"text":{"field":"t"}}}
     ]}
   ],"spacing":104,"bounds":"flush","resolve":{"scale":{"fill":"independent"}}}
  ],"spacing":97,"bounds":"flush","resolve":{"scale":{"fill":"independent"}}}
 ],"spacing":16,"resolve":{"scale":{"fill":"independent","stroke":"independent","color":"independent","strokeDash":"independent"}}}
]
}
